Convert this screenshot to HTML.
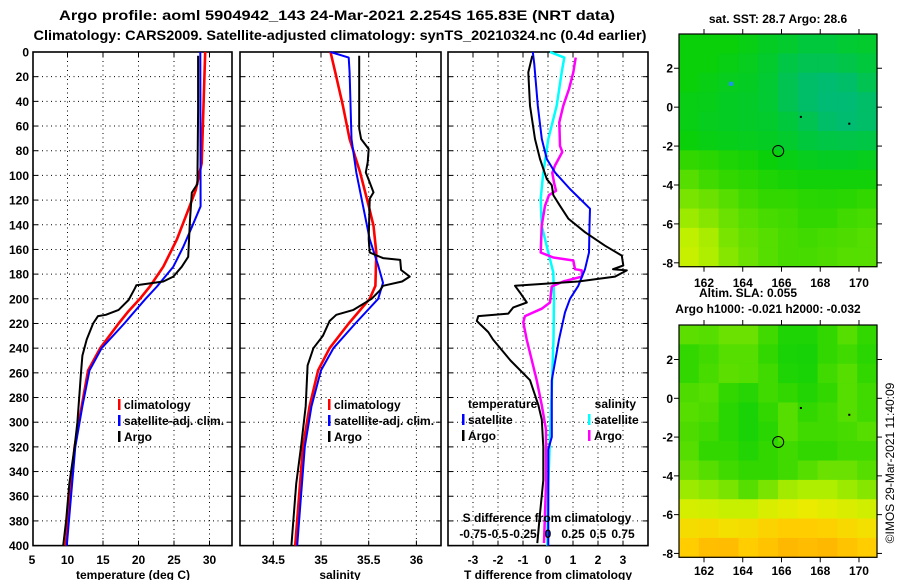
<!DOCTYPE html>
<html><head><meta charset="utf-8">
<style>
html,body{margin:0;padding:0;background:#fff;}
svg{display:block;font-family:"Liberation Sans",Arial,sans-serif;font-weight:bold;}
</style></head>
<body>
<svg id="chart" width="900" height="580" viewBox="0 0 900 580" xmlns="http://www.w3.org/2000/svg">
<text x="337" y="20" font-size="13.5" text-anchor="middle" textLength="556" lengthAdjust="spacingAndGlyphs">Argo profile: aoml 5904942_143 24-Mar-2021 2.254S 165.83E (NRT data)</text>
<text x="340" y="40" font-size="13.5" text-anchor="middle" textLength="613" lengthAdjust="spacingAndGlyphs">Climatology: CARS2009. Satellite-adjusted climatology: synTS_20210324.nc (0.4d earlier)</text>
<g id="g"></g>
</svg>
<script>
// ---------- data ----------
const depthTicks=[0,20,40,60,80,100,120,140,160,180,200,220,240,260,280,300,320,340,360,380,400];
const tTicks=[5,10,15,20,25,30];
const sTicks=[34.5,35,35.5,36];
const dTicks=[-3,-2,-1,0,1,2,3];
const dTickLabels=["-3","-2","-1","0","1","2","3"];
const sdTickLabels=["-0.75","-0.5","-0.25","0","0.25","0.5","0.75"];

const tClimDepth=[0,90,112,131,152,174,190,200,210,220,240,258,287,320,400];
const tClimVal=[29.4,28.9,28.05,26.8,25.4,23.5,21.6,20.2,18.6,17.2,14.6,12.9,12.0,11.0,9.75];
const tSatDepth=[0,125,142,158,174,190,200,210,220,240,258,287,320,400];
const tSatVal=[28.7,28.75,27.5,26.3,24.9,22.6,21.0,19.5,18.0,14.8,13.1,12.1,11.1,9.9];
const tArgoDepth=[3,47,107,114,136,166,174,182,186,189,191.5,201,209,213,214,220,233,246,260,300,320,350,380,400];
const tArgoVal=[28.4,28.4,28.3,27.5,27.25,27.0,26.1,24.9,23.5,19.7,19.5,18.6,17.2,15.4,14.3,13.6,12.7,12.1,11.9,11.4,11.0,10.25,9.8,9.4];

const sClimDepth=[0,16.5,43.5,70.5,97.6,124.6,140.8,162.5,189.5,200,220,240,258,287,320,400];
const sClimVal=[35.1,35.15,35.23,35.3,35.41,35.5,35.55,35.58,35.57,35.51,35.29,35.09,34.97,34.88,34.81,34.73];
const sSatDepth=[0,4.5,16.5,70.5,97.6,124.6,151.7,173,187,200,220,240,258,287,320,400];
const sSatVal=[35.1,35.29,35.3,35.32,35.37,35.44,35.51,35.6,35.65,35.6,35.36,35.13,35.0,34.9,34.83,34.75];
const sArgoDepth=[3,62,70.5,78.6,89.4,97.6,105.7,113.8,119,151.7,162.5,167,168.5,176.7,182,186,189.5,193,200,209,213,218,230,240,254,287,320,350,400];
const sArgoVal=[35.4,35.4,35.42,35.5,35.49,35.47,35.51,35.55,35.51,35.5,35.51,35.65,35.83,35.84,35.93,35.85,35.65,35.62,35.53,35.34,35.16,35.09,35.02,34.92,34.86,34.84,34.79,34.74,34.69];

const dTSatDepth=[0,10,43.5,70.5,86.7,97.6,111,127,140.8,162.5,176,189.5,200,211,233,266,312,322,400];
const dTSatVal=[-0.61,-0.55,-0.41,-0.25,-0.05,0.28,0.88,1.68,1.66,1.64,1.48,1.21,0.88,0.68,0.44,0.15,0.15,0.01,0.01];
const dTArgoDepth=[3,16.5,43.5,70.5,86.7,103,108,116,124.6,135,146,157,165,173,176,177,182,186,189.5,195,203,207,212,214,218,227,233,250,266,286,298,320,347,374,398];
const dTArgoVal=[-0.63,-0.79,-0.72,-0.52,-0.32,-0.05,0.15,0.21,0.48,0.81,1.48,2.28,2.95,3.01,2.6,3.15,2.68,1.21,-1.32,-1.12,-0.85,-1.39,-1.59,-2.79,-2.85,-2.39,-2.2,-1.5,-0.72,-0.39,-0.25,-0.19,-0.19,-0.32,-0.43];
const dSSatDepth=[0,4.5,16.5,43.5,70.5,97.6,119,140.8,162.5,178.6,200,233,350,400];
const dSSatVal=[0.02,0.163,0.137,0.087,0.003,-0.047,-0.073,-0.063,0.003,0.053,0.06,0.055,0.003,-0.007];
const dSArgoDepth=[4.5,16.5,30,43.5,57,76,81,92,98,105.7,112.5,116,124.6,140.8,162.5,166.5,169,176,177,182,186,190,203,208,214,219,233,266,286,306,350,398];
const dSArgoVal=[0.277,0.253,0.21,0.153,0.113,0.12,0.143,0.07,0.043,0.06,0.08,0.01,-0.03,-0.063,-0.073,0.053,0.253,0.27,0.337,0.34,0.153,0.037,0.02,-0.063,-0.23,-0.247,-0.213,-0.113,-0.063,-0.02,-0.02,-0.04];

const lonTicks=[162,164,166,168,170];
const latTicks=[2,0,-2,-4,-6,-8];
const sstGrid=[
[0.4,0.4,0.4,0.38,0.35,0.33,0.3,0.3,0.32,0.33],
[0.4,0.4,0.38,0.36,0.33,0.28,0.25,0.25,0.27,0.3],
[0.4,0.38,0.36,0.35,0.32,0.25,0.2,0.18,0.2,0.25],
[0.38,0.37,0.35,0.34,0.32,0.25,0.2,0.17,0.17,0.2],
[0.38,0.36,0.35,0.34,0.33,0.3,0.25,0.2,0.18,0.2],
[0.4,0.38,0.37,0.36,0.35,0.33,0.3,0.28,0.27,0.28],
[0.5,0.48,0.45,0.43,0.4,0.38,0.36,0.35,0.35,0.36],
[0.55,0.52,0.5,0.48,0.45,0.43,0.42,0.42,0.42,0.42],
[0.6,0.58,0.55,0.52,0.5,0.5,0.48,0.47,0.48,0.5],
[0.65,0.62,0.58,0.55,0.53,0.52,0.5,0.5,0.52,0.53],
[0.7,0.67,0.6,0.57,0.55,0.53,0.52,0.53,0.54,0.55],
[0.72,0.68,0.62,0.58,0.55,0.53,0.53,0.54,0.55,0.55]];
const slaGrid=[
[0.56,0.55,0.58,0.58,0.52,0.45,0.45,0.5,0.55,0.5],
[0.5,0.52,0.55,0.55,0.5,0.44,0.43,0.5,0.52,0.48],
[0.5,0.53,0.56,0.55,0.52,0.45,0.44,0.52,0.55,0.5],
[0.54,0.55,0.5,0.47,0.52,0.5,0.46,0.5,0.55,0.52],
[0.55,0.54,0.48,0.44,0.5,0.55,0.5,0.52,0.55,0.52],
[0.54,0.52,0.48,0.44,0.48,0.55,0.52,0.52,0.53,0.55],
[0.55,0.5,0.5,0.46,0.5,0.52,0.5,0.5,0.52,0.52],
[0.58,0.55,0.52,0.5,0.5,0.52,0.55,0.58,0.58,0.55],
[0.65,0.63,0.6,0.55,0.6,0.66,0.68,0.68,0.65,0.62],
[0.75,0.74,0.72,0.72,0.76,0.78,0.8,0.78,0.76,0.74],
[0.85,0.86,0.84,0.85,0.88,0.9,0.9,0.89,0.86,0.84],
[0.9,0.94,0.95,0.9,0.93,0.96,0.95,0.96,0.93,0.9]];

// ---------- drawing ----------
const NS="http://www.w3.org/2000/svg";
const G=document.getElementById('g');
function el(tag,attrs,parent){const e=document.createElementNS(NS,tag);for(const k in attrs)e.setAttribute(k,attrs[k]);(parent||G).appendChild(e);return e;}
function txt(s,x,y,size,anchor,parent){const t=el('text',{x:x,y:y,'font-size':size,'text-anchor':anchor||'middle'},parent);t.textContent=s;return t;}

const Y0=52, YS=1.234, YB=52+400*1.234;
const yD=d=>Y0+d*YS;
const panels=[
 {name:'temperature-panel',x0:33,x1:232,fx:v=>32+(v-5)*7.1},
 {name:'salinity-panel',x0:240,x1:441,fx:v=>273.3+(v-34.5)*95.4},
 {name:'difference-panel',x0:448,x1:648,fx:v=>548+v*25}
];
const fS=v=>548+v*100;

function frame(p,grid){
  const g=el('g',{});
  
  
  depthTicks.forEach((d,i)=>{
    if(i>0&&i<depthTicks.length-1){
      const l=el('line',{x1:p.x0,x2:p.x1,y1:yD(d),y2:yD(d),stroke:'#000','stroke-width':1,'stroke-dasharray':'1,3.5'},g);
      
      
    }
    el('line',{x1:p.x0,x2:p.x0+5,y1:yD(d),y2:yD(d),stroke:'#000','stroke-width':1},g);
    el('line',{x1:p.x1-5,x2:p.x1,y1:yD(d),y2:yD(d),stroke:'#000','stroke-width':1},g);
  });
  grid.forEach(v=>{
    const x=p.fx(v);
    const l=el('line',{x1:x,x2:x,y1:Y0,y2:YB,stroke:'#000','stroke-width':1,'stroke-dasharray':'1,3.5'},g);
    
    
    el('line',{x1:x,x2:x,y1:Y0,y2:Y0+5,stroke:'#000'},g);
    el('line',{x1:x,x2:x,y1:YB-5,y2:YB,stroke:'#000'},g);
  });
  const r=el('rect',{x:p.x0,y:Y0,width:p.x1-p.x0,height:YB-Y0,fill:'none',stroke:'#000','stroke-width':1.6},g);
  
  
  return g;
}
function line(g,depths,vals,fx,color,w,name){
  const pts=depths.map((d,i)=>fx(vals[i]).toFixed(1)+','+yD(d).toFixed(1)).join(' ');
  const pl=el('polyline',{points:pts,fill:'none',stroke:color,'stroke-width':w,'stroke-linejoin':'round'},g);
  
  
}
function legendEntry(g,x,y,color,label,name,anchor){
  const gg=el('g',{},g);
  
  
  if(color) el('rect',{x:x,y:y-10,width:2.5,height:11,fill:color},gg);
  txt(label,x+6,y,12,anchor||'start',gg);
}

const yax=el('g',{});


depthTicks.forEach(d=>txt(String(d),29,yD(d)+4.5,12,'end',yax));

// Panel 1
const p1=frame(panels[0],tTicks.slice(1));
line(p1,tClimDepth,tClimVal,panels[0].fx,'#f00',2.6,'temperature-climatology-line');
line(p1,tSatDepth,tSatVal,panels[0].fx,'#00f',2,'temperature-satellite-line');
line(p1,tArgoDepth,tArgoVal,panels[0].fx,'#000',2,'temperature-argo-line');
const x1ax=el('g',{});


tTicks.forEach(v=>txt(String(v),panels[0].fx(v),564,12,'middle',x1ax));
txt('temperature (deg C)',133,579,12,'middle',x1ax);
legendEntry(p1,118,409,'#f00','climatology','legend-climatology');
legendEntry(p1,118,425,'#00f','satellite-adj. clim.','legend-satellite');
legendEntry(p1,118,441,'#000','Argo','legend-argo');

// Panel 2
const p2=frame(panels[1],sTicks);
line(p2,sClimDepth,sClimVal,panels[1].fx,'#f00',2.6,'salinity-climatology-line');
line(p2,sSatDepth,sSatVal,panels[1].fx,'#00f',2,'salinity-satellite-line');
line(p2,sArgoDepth,sArgoVal,panels[1].fx,'#000',2,'salinity-argo-line');
const x2ax=el('g',{});


sTicks.forEach(v=>txt(String(v),panels[1].fx(v),564,12,'middle',x2ax));
txt('salinity',340,579,12,'middle',x2ax);
legendEntry(p2,328,409,'#f00','climatology','legend-climatology-2');
legendEntry(p2,328,425,'#00f','satellite-adj. clim.','legend-satellite-2');
legendEntry(p2,328,441,'#000','Argo','legend-argo-2');

// Panel 3
const p3=frame(panels[2],dTicks);
line(p3,dSSatDepth,dSSatVal,fS,'#0ff',2.5,'salinity-diff-satellite-line');
line(p3,dSArgoDepth,dSArgoVal,fS,'#f0f',2.5,'salinity-diff-argo-line');
line(p3,dTSatDepth,dTSatVal,panels[2].fx,'#00f',2,'temperature-diff-satellite-line');
line(p3,dTArgoDepth,dTArgoVal,panels[2].fx,'#000',2,'temperature-diff-argo-line');
const x3ax=el('g',{});


dTicks.forEach((v,i)=>txt(dTickLabels[i],panels[2].fx(v),564,12,'middle',x3ax));
txt('T difference from climatology',548,579,12,'middle',x3ax);
const sdax=el('g',{});


txt('S difference from climatology',547,522,12,'middle',sdax);
dTicks.forEach((v,i)=>txt(sdTickLabels[i],fS(v/4),538,12,'middle',sdax));
txt('temperature',468,408,12,'start',p3);
legendEntry(p3,462,424,'#00f','satellite','legend-t-satellite');
legendEntry(p3,462,440,'#000','Argo','legend-t-argo');
txt('salinity',636,408,12,'end',p3);
legendEntry(p3,588,424,'#0ff','satellite','legend-s-satellite');
legendEntry(p3,588,440,'#f0f','Argo','legend-s-argo');

// ---------- maps ----------
const stops=[[0.15,[0,185,125]],[0.3,[0,200,60]],[0.4,[10,208,10]],[0.5,[50,215,0]],[0.6,[120,228,0]],[0.7,[190,240,0]],[0.8,[235,235,0]],[0.9,[255,205,0]],[1.0,[255,170,0]]];
function cmap(v){
  if(v<=stops[0][0])return 'rgb('+stops[0][1]+')';
  for(let i=1;i<stops.length;i++){if(v<=stops[i][0]){const a=stops[i-1],b=stops[i],t=(v-a[0])/(b[0]-a[0]);return 'rgb('+a[1].map((c,k)=>Math.round(c+(b[1][k]-c)*t)).join(',')+')';}}
  return 'rgb('+stops[stops.length-1][1]+')';
}
function drawMap(name,grid,x0,x1,y0,y1,latTop,latBot,lonLabelY){
  const g=el('g',{});
  
  
  const lonL=160.71,lonR=170.93;
  const fx=l=>x0+(l-lonL)/(lonR-lonL)*(x1-x0);
  const fy=la=>y0+(latTop-la)/(latTop-latBot)*(y1-y0);
  const rows=grid.length,cols=grid[0].length;
  const cw=(x1-x0)/cols,ch=(y1-y0)/rows;
  grid.forEach((row,r)=>row.forEach((v,c)=>{
    const cell=el('rect',{x:(x0+c*cw).toFixed(2),y:(y0+r*ch).toFixed(2),width:(cw+0.6).toFixed(2),height:(ch+0.6).toFixed(2),fill:cmap(v)},g);
    
    
  }));
  el('rect',{x:x0,y:y0,width:x1-x0,height:y1-y0,fill:'none',stroke:'#000','stroke-width':1.2},g);
  lonTicks.forEach(l=>{const x=fx(l);el('line',{x1:x,x2:x,y1:y0-5,y2:y0,stroke:'#000'},g);el('line',{x1:x,x2:x,y1:y1,y2:y1+5,stroke:'#000'},g);
    txt(String(l),x,lonLabelY,12,'middle',g);});
  latTicks.forEach(la=>{const y=fy(la);el('line',{x1:x0-5,x2:x0,y1:y,y2:y,stroke:'#000'},g);el('line',{x1:x1,x2:x1+5,y1:y,y2:y,stroke:'#000'},g);
    txt(String(la),673,y+4.5,12,'end',g);});
  const pc=el('circle',{cx:fx(165.83),cy:fy(-2.254),r:5.5,fill:'none',stroke:'#000','stroke-width':1},g);
  
  
  el('rect',{x:fx(167)-1,y:fy(-0.5)-1,width:2,height:2,fill:'#000'},g);
  el('rect',{x:fx(169.5)-1,y:fy(-0.85)-1,width:2,height:2,fill:'#000'},g);
  return {g,fx,fy};
}
txt('sat. SST: 28.7 Argo: 28.6',778,23,12,'middle');
const m1=drawMap('sst-map',sstGrid,679,877,34,266.7,3.76,-8.2,287);
el('rect',{x:m1.fx(163.4)-2,y:m1.fy(1.2)-2,width:4,height:4,fill:'#1e90ff'},m1.g);
txt('Altim. SLA: 0.055',748,297,12,'middle');
txt('Argo h1000: -0.021 h2000: -0.032',768,313,12,'middle');
drawMap('sla-map',slaGrid,679,877,325,557.3,3.78,-8.2,575);
const cr=txt('©IMOS 29-Mar-2021 11:40:09',0,0,12,'middle');
cr.setAttribute('transform','translate(894,463) rotate(-90)');
cr.setAttribute('font-weight','normal');

</script>
</body></html>
